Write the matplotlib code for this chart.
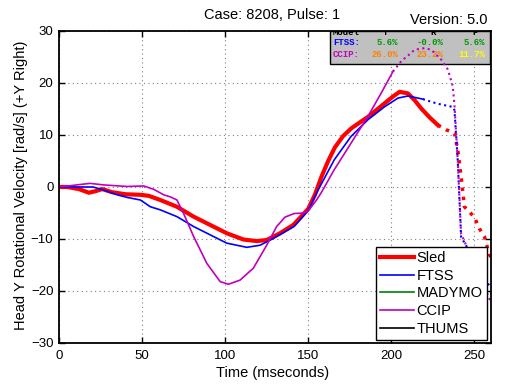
import matplotlib
matplotlib.use("Agg")
import matplotlib.pyplot as plt
from matplotlib.patches import Rectangle

plt.rcParams['font.family'] = ['Liberation Sans', 'DejaVu Sans']

# Sled (solid part, then dotted tail)
sled_t = [0, 5, 12, 18, 22, 26, 32, 40, 49, 54, 61, 71, 81, 91, 101, 111, 119, 125,
          133, 141, 146, 150, 154, 158, 162, 166, 171, 176, 186, 196, 201, 205, 210,
          214, 218, 223, 228]
sled_v = [0, 0, -0.4, -1.1, -0.8, -0.4, -1.0, -1.4, -1.5, -1.7, -2.5, -3.8, -5.7, -7.3,
          -8.9, -10.1, -10.4, -10.2, -8.9, -7.3, -5.6, -4.2, -1.5, 2.0, 5.0, 7.6, 9.8,
          11.3, 13.5, 16.1, 17.4, 18.3, 18.0, 16.7, 15.1, 13.4, 11.9]
sled_tail_t = [228, 233, 238, 240, 242, 244, 250, 253, 256, 259, 260]
sled_tail_v = [11.9, 11.0, 10.4, 7.1, 2.0, -3.8, -5.8, -8.0, -9.5, -13.0, -13.5]

# FTSS
ftss_t = [0, 10, 20.5, 27, 35, 41, 49, 55, 61, 71, 81, 91, 101, 113, 121, 129, 135,
          141.5, 146, 150, 155.6, 165.6, 175.7, 185.8, 195.8, 204, 210, 219]
ftss_v = [0, 0, 0, -0.6, -1.5, -2.0, -2.5, -3.8, -4.4, -5.7, -7.6, -9.2, -10.8, -11.6,
          -11.2, -9.9, -8.8, -7.6, -6.0, -4.5, -0.8, 5.2, 9.7, 12.9, 15.4, 17.1, 17.5, 16.9]
ftss_tail_t = [219, 228, 237, 238, 240, 242, 250, 259, 260]
ftss_tail_v = [16.9, 16.0, 15.4, 14.8, 5.0, -9.6, -14.0, -19.0, -19.5]

# CCIP
ccip_t = [0, 10.7, 18.7, 26.8, 41, 51, 57, 63, 67, 71, 75, 81, 89, 97, 102, 109, 117,
          125, 131, 136, 141.5, 147.5, 150, 155, 158, 165.6, 175.7, 185.8, 193.8, 201]
ccip_v = [0, 0.4, 0.7, 0.4, 0.1, 0.2, -0.45, -1.5, -1.9, -2.5, -5.1, -9.5, -14.7, -18.2,
          -18.7, -17.9, -15.6, -11.2, -7.6, -5.8, -5.1, -5.0, -4.6, -2.5, -1.0, 3.3, 8.4,
          13.5, 18.0, 22.2]
ccip_tail_t = [201, 202, 206, 212, 214, 220, 224, 230, 234, 237, 238, 240, 242, 259, 260]
ccip_tail_v = [22.2, 22.6, 24.2, 25.8, 26.4, 26.7, 26.4, 24.5, 22.6, 19.4, 15.8, 5.0,
               -9.0, -21.5, -22.0]

# score table
table_cols = ["T", "R", "P"]
ftss_scores = ["5.6%", "-0.0%", "5.6%"]
ccip_scores = ["26.0%", "23.2%", "11.7%"]
ccip_colors = ["#ff8000", "#ff8000", "#ffff00"]

red, blue, green, mag = (1, 0, 0), (0, 0, 1), (0, 0.5, 0), (0.75, 0, 0.75)

fig = plt.figure(figsize=(5.05, 3.86), dpi=100)
ax = fig.add_axes([0.1168, 0.1114, 0.8555, 0.8083])

ax.plot(sled_t, sled_v, color=red, lw=3, label="Sled")
ax.plot(sled_tail_t, sled_tail_v, color=red, lw=2.5, ls=":")
ax.plot(ftss_t, ftss_v, color=blue, lw=1.2, label="FTSS")
ax.plot(ftss_tail_t, ftss_tail_v, color=blue, lw=1.5, ls=":")
ax.plot([], [], color=green, lw=1.2, label="MADYMO")
ax.plot(ccip_t, ccip_v, color=mag, lw=1.2, label="CCIP")
ax.plot(ccip_tail_t, ccip_tail_v, color=mag, lw=1.5, ls=":")
ax.plot([], [], color="black", lw=1.2, label="THUMS")

ax.set_xlim(0, 260)
ax.set_ylim(-30, 30)
ax.set_xticks(range(0, 251, 50))
ax.set_yticks(range(-30, 31, 10))
ax.set_axisbelow(True)
ax.grid(True, ls=(0, (1, 3)), color="0.5", lw=0.8)
ax.tick_params(direction="in", top=True, right=True, length=4, width=1,
               labelsize=9.5)
ax.tick_params(axis="x", pad=5)
ax.tick_params(axis="y", pad=4)
for s in ax.spines.values():
    s.set_linewidth(1.3)

# score box
ax.add_patch(Rectangle((0.627, 0.894), 0.371, 0.106, transform=ax.transAxes,
                       facecolor="#c0c0c0", edgecolor="black", lw=1, zorder=1.5))
mono = dict(family="Liberation Mono", weight="bold", fontsize=6.5,
            transform=ax.transAxes, va="center", zorder=1.6)
ax.text(0.634, 0.994, "Model", color="black", clip_on=True, **mono)
for x, c in zip([0.755, 0.866, 0.963], table_cols):
    ax.text(x, 0.994, c, color="black", ha="center", clip_on=True, **mono)
ax.text(0.634, 0.964, "FTSS:", color=blue, **mono)
ax.text(0.634, 0.925, "CCIP:", color=mag, **mono)
for x, s in zip([0.785, 0.889, 0.986], ftss_scores):
    ax.text(x, 0.964, s, color=(0, 0.6, 0), ha="right", **mono)
for x, s, c in zip([0.785, 0.889, 0.986], ccip_scores, ccip_colors):
    ax.text(x, 0.925, s, color=c, ha="right", **mono)

leg = ax.legend(loc="lower right", bbox_to_anchor=(0.991, 0.0096), borderaxespad=0,
                fontsize=10.5, fancybox=False, framealpha=1, edgecolor="black",
                handlelength=2.3, handletextpad=0.2, labelspacing=0.25, borderpad=0.3)
leg.get_frame().set_linewidth(1)

fig.text(272 / 505, 1 - 15 / 386, "Case: 8208, Pulse: 1", ha="center", va="center",
         fontsize=10.5)
fig.text(488 / 505, 1 - 20 / 386, "Version: 5.0", ha="right", va="center",
         fontsize=10.5)
fig.text(273 / 505, 1 - 373 / 386, "Time (mseconds)", ha="center", va="center",
         fontsize=10.5)
fig.text(21 / 505, 1 - 185 / 386, "Head Y Rotational Velocity [rad/s] (+Y Right)",
         rotation=90, ha="center", va="center", fontsize=10.5)

fig.savefig("out.png", dpi=100)
